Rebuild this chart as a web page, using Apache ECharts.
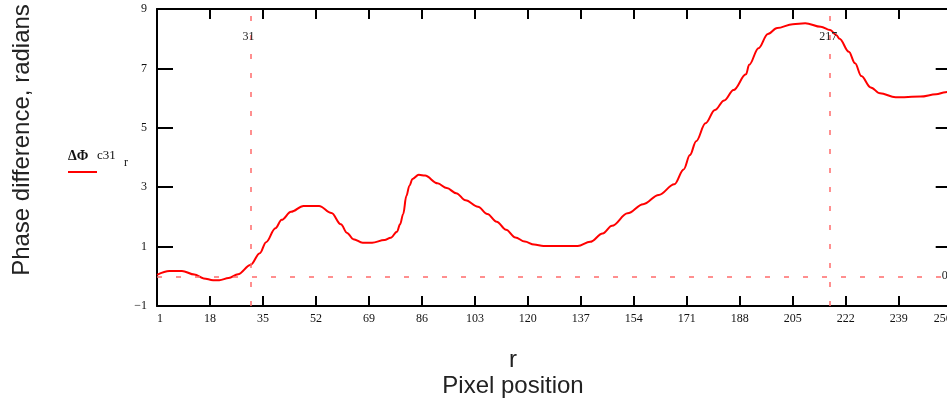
<!DOCTYPE html>
<html>
<head>
<meta charset="utf-8">
<script src="https://cdn.jsdelivr.net/npm/echarts@6/dist/echarts.min.js"></script>
<style>
html,body{margin:0;padding:0;background:#fff;}
#chart{width:947px;height:403px;}
</style>
</head>
<body>
<div id="chart"></div>
<script>
// Pixel position r
const rValues = [1, 5, 9, 13, 16, 19, 21, 24, 27, 31, 34, 36, 39, 41, 44, 48, 53, 57, 60, 62, 64, 67, 70, 74, 76, 78, 79, 80, 81, 82, 83, 85, 87, 91, 94, 97, 100, 104, 107, 110, 113, 116, 119, 122, 125, 130, 136, 140, 144, 147, 152, 157, 162, 167, 170, 172, 174, 177, 180, 183, 186, 190, 191, 194, 197, 200, 205, 209, 214, 217, 219, 220, 223, 225, 227, 230, 233, 238, 246, 251, 254, 256];
// Phase difference ΔΦc31_r, radians
const phaseValues = [0.05, 0.18, 0.18, 0.06, -0.07, -0.13, -0.13, -0.06, 0.07, 0.38, 0.78, 1.15, 1.62, 1.90, 2.17, 2.37, 2.37, 2.13, 1.75, 1.46, 1.25, 1.13, 1.13, 1.22, 1.30, 1.50, 1.75, 2.10, 2.70, 3.05, 3.28, 3.42, 3.39, 3.13, 2.97, 2.80, 2.56, 2.34, 2.10, 1.84, 1.57, 1.31, 1.17, 1.07, 1.02, 1.02, 1.02, 1.16, 1.44, 1.70, 2.12, 2.43, 2.74, 3.10, 3.60, 4.08, 4.55, 5.15, 5.60, 5.92, 6.27, 6.80, 7.12, 7.68, 8.16, 8.36, 8.49, 8.52, 8.40, 8.29, 8.12, 8.00, 7.56, 7.17, 6.74, 6.36, 6.16, 6.03, 6.05, 6.13, 6.20, 6.22];
// Marker lines
const markerR = [31, 217];
const markerPhase = [0];
// Axis settings
const xMin = 1, xMax = 256, xStep = 17;
const yMin = -1, yMax = 9, yStep = 2;

const seriesData = rValues.map((r, i) => [r, phaseValues[i]]);

const serif = '"Liberation Serif", "DejaVu Serif", serif';
const sans = '"Liberation Sans", Arial, sans-serif';
const axisLineStyle = { color: '#000', width: 2 };

const chart = echarts.init(document.getElementById('chart'));

const markLineData = [];
markerR.forEach(r => markLineData.push({
  xAxis: r,
  label: { show: true, position: 'end', distance: -34, formatter: String(r),
           fontFamily: serif, fontSize: 12, color: '#222', offset: [-2, 0] }
}));
markerPhase.forEach(p => markLineData.push({
  yAxis: p,
  label: { show: true, position: 'end', distance: -10, formatter: String(p),
           fontFamily: serif, fontSize: 12, color: '#222' }
}));

chart.setOption({
  animation: false,
  backgroundColor: '#fff',
  grid: { left: 157, width: 794.7, top: 9, height: 297, containLabel: false, outerBoundsMode: 'none' },
  xAxis: [
    {
      type: 'value', min: xMin, max: xMax, interval: xStep, position: 'bottom',
      axisLine: { show: true, onZero: false, lineStyle: axisLineStyle },
      axisTick: { show: true, inside: true, length: 10, lineStyle: axisLineStyle },
      axisLabel: { show: true, margin: 7, fontFamily: serif, fontSize: 12, color: '#111',
                   alignMinLabel: 'left', alignMaxLabel: 'right' },
      splitLine: { show: false }
    },
    {
      type: 'value', min: xMin, max: xMax, interval: xStep, position: 'top',
      axisLine: { show: true, onZero: false, lineStyle: axisLineStyle },
      axisTick: { show: true, inside: true, length: 10, lineStyle: axisLineStyle },
      axisLabel: { show: false },
      splitLine: { show: false }
    }
  ],
  yAxis: [
    {
      type: 'value', min: yMin, max: yMax, interval: yStep, position: 'left',
      axisLine: { show: true, onZero: false, lineStyle: axisLineStyle },
      axisTick: { show: true, inside: true, length: 16, lineStyle: axisLineStyle },
      axisLabel: { show: true, margin: 10, fontFamily: serif, fontSize: 12, color: '#111',
                   formatter: v => (v < 0 ? '\u2212' + Math.abs(v) : String(v)) },
      splitLine: { show: false }
    },
    {
      type: 'value', min: yMin, max: yMax, interval: yStep, position: 'right',
      axisLine: { show: true, onZero: false, lineStyle: axisLineStyle },
      axisTick: { show: true, inside: true, length: 16, lineStyle: axisLineStyle },
      axisLabel: { show: false },
      splitLine: { show: false }
    }
  ],
  series: [{
    name: 'ΔΦc31r',
    type: 'line',
    xAxisIndex: 0, yAxisIndex: 0,
    data: seriesData,
    showSymbol: false,
    smooth: 0.35,
    smoothMonotone: 'x',
    lineStyle: { color: '#ff0000', width: 2 },
    itemStyle: { color: '#ff0000' },
    z: 3,
    markLine: {
      silent: true,
      symbol: ['none', 'none'],
      lineStyle: { color: '#ff6b6b', type: [5, 14], width: 1.5 },
      data: markLineData
    }
  }],
  graphic: [
    {
      type: 'text', x: 22, y: 140, rotation: Math.PI / 2,
      style: { text: 'Phase difference, radians', font: '24px ' + sans, fill: '#222',
               align: 'center', verticalAlign: 'middle', textAlign: 'center', textVerticalAlign: 'middle' }
    },
    {
      type: 'text', x: 513, y: 360,
      style: { text: 'r', font: '24px ' + sans, fill: '#222',
               align: 'center', verticalAlign: 'middle', textAlign: 'center', textVerticalAlign: 'middle' }
    },
    {
      type: 'text', x: 513, y: 386,
      style: { text: 'Pixel position', font: '24px ' + sans, fill: '#222',
               align: 'center', verticalAlign: 'middle', textAlign: 'center', textVerticalAlign: 'middle' }
    },
    {
      type: 'text', x: 68, y: 156,
      style: { text: 'ΔΦ', font: 'bold 14px ' + serif, fill: '#111',
               align: 'left', verticalAlign: 'middle', textAlign: 'left', textVerticalAlign: 'middle' }
    },
    {
      type: 'text', x: 97, y: 156,
      style: { text: 'c31', font: '13px ' + serif, fill: '#111',
               align: 'left', verticalAlign: 'middle', textAlign: 'left', textVerticalAlign: 'middle' }
    },
    {
      type: 'text', x: 124, y: 163,
      style: { text: 'r', font: '12px ' + serif, fill: '#111',
               align: 'left', verticalAlign: 'middle', textAlign: 'left', textVerticalAlign: 'middle' }
    },
    {
      type: 'line', shape: { x1: 68, y1: 172, x2: 97, y2: 172 },
      style: { stroke: '#ff0000', lineWidth: 2 }
    }
  ]
});
</script>
</body>
</html>
